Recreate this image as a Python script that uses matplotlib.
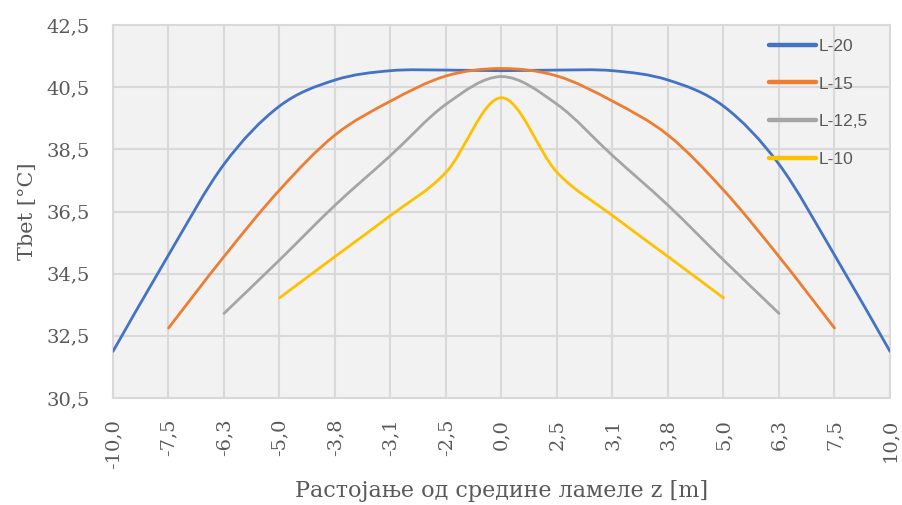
import numpy as np
import matplotlib.pyplot as plt
from matplotlib.path import Path
from matplotlib.patches import PathPatch
from matplotlib.lines import Line2D

# category labels along x (distance from middle of lamella)
z_labels = ["-10,0", "-7,5", "-6,3", "-5,0", "-3,8", "-3,1", "-2,5", "0,0",
            "2,5", "3,1", "3,8", "5,0", "6,3", "7,5", "10,0"]

# temperatures, each series starts at category index `start`
l20 = [32.0, 35.1, 38.02, 39.89, 40.73, 41.03, 41.05, 41.03, 41.05, 41.03, 40.73, 39.89, 38.02, 35.1, 32.0]
l15 = [32.75, 35.05, 37.19, 38.96, 40.05, 40.86, 41.1, 40.86, 40.05, 38.96, 37.19, 35.05, 32.75]
l125 = [33.22, 34.94, 36.7, 38.3, 39.95, 40.84, 39.95, 38.3, 36.7, 34.94, 33.22]
l10 = [33.72, 35.05, 36.37, 37.76, 40.16, 37.76, 36.37, 35.05, 33.72]

series = [("L-20", l20, 0, "#4472C4"),
          ("L-15", l15, 1, "#ED7D31"),
          ("L-12,5", l125, 2, "#A5A5A5"),
          ("L-10", l10, 3, "#FFC000")]

serif = "DejaVu Serif"
grey_txt = "#595959"


def smooth_path(x, y):
    # Excel-style smoothed line: cubic bezier with catmull-rom control points
    pts = np.column_stack([x, y]).astype(float)
    n = len(pts)
    verts = [pts[0]]
    codes = [Path.MOVETO]
    for i in range(n - 1):
        p0 = pts[i - 1] if i > 0 else pts[i]
        p1 = pts[i]
        p2 = pts[i + 1]
        p3 = pts[i + 2] if i + 2 < n else pts[i + 1]
        c1 = p1 + (p2 - p0) / 6.0
        c2 = p2 - (p3 - p1) / 6.0
        verts += [c1, c2, p2]
        codes += [Path.CURVE4] * 3
    return Path(verts, codes)


fig = plt.figure(figsize=(9.03, 5.05), dpi=100)
ax = fig.add_axes([113 / 903, 1 - 398 / 505, 777 / 903, 373 / 505])
ax.set_facecolor("#F2F2F2")

handles = []
for name, vals, start, col in series:
    xs = np.arange(start, start + len(vals))
    patch = PathPatch(smooth_path(xs, vals), fill=False, edgecolor=col, lw=2.0,
                      capstyle="round", joinstyle="round", zorder=3)
    ax.add_patch(patch)
    handles.append(Line2D([], [], color=col, lw=3.2, solid_capstyle="round", label=name))

ax.set_xlim(0, len(z_labels) - 1)
ax.set_ylim(30.5, 42.5)
ax.set_xticks(range(len(z_labels)))
ax.set_xticklabels(z_labels, rotation=90, family=serif, fontsize=14, color=grey_txt)
yt = np.arange(30.5, 42.6, 2.0)
ax.set_yticks(yt)
ax.set_yticklabels([f"{v:.1f}".replace(".", ",") for v in yt], family=serif,
                   fontsize=14, color=grey_txt)
ax.tick_params(axis="x", length=0, pad=15)
ax.tick_params(axis="y", length=0, pad=16.5)
ax.grid(True, color="#D9D9D9", lw=1.5, zorder=0)
ax.set_axisbelow(True)
for s in ax.spines.values():
    s.set_color("#D9D9D9")
    s.set_linewidth(1.5)

ax.set_ylabel("Tbet [°C]", family=serif, fontsize=15, color=grey_txt, labelpad=7)
ax.set_xlabel("Растојање од средине ламеле z [m]", family=serif, fontsize=16,
              color=grey_txt, labelpad=8)

fig.legend(handles=handles, loc="upper left", bbox_to_anchor=(760 / 903, 1 - 30 / 505),
           frameon=False, borderpad=0, handlelength=2.7, handletextpad=0.15,
           labelspacing=1.3, prop={"family": "Liberation Sans", "size": 12.5},
           labelcolor=grey_txt)

fig.savefig("out.png", dpi=100)
